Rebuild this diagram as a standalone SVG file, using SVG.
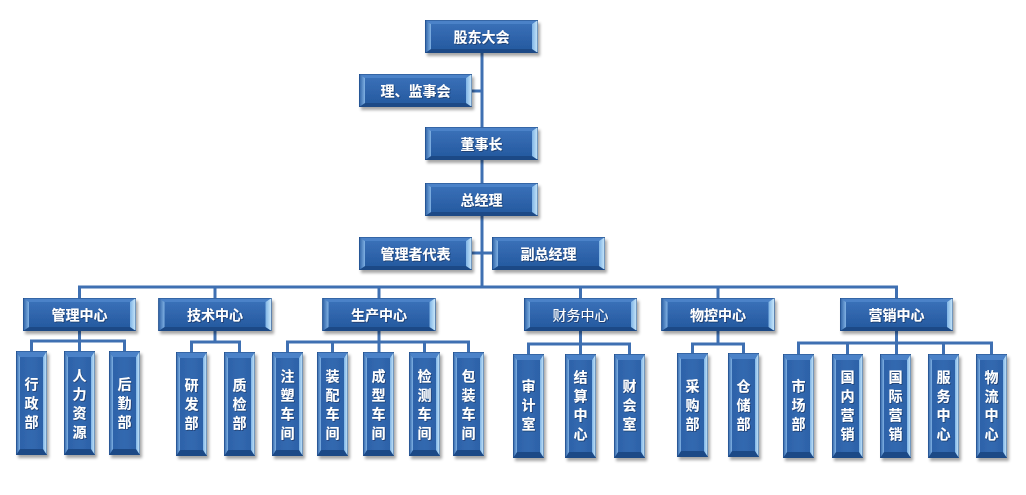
<svg xmlns="http://www.w3.org/2000/svg" xmlns:xlink="http://www.w3.org/1999/xlink" width="1026" height="495" viewBox="0 0 1026 495">
<style>
.ln{fill:none;stroke:#3f70b2;stroke-width:3;stroke-linejoin:miter}
.t{font-family:"Noto Sans CJK SC","Noto Sans",sans-serif;font-size:14px;font-weight:bold;fill:#ffffff;text-anchor:middle;filter:url(#ts)}
.tn{font-weight:normal}
</style>
<defs>
<filter id="sh" x="-20%" y="-20%" width="150%" height="150%">
<feDropShadow dx="2" dy="3" stdDeviation="1.5" flood-color="#000" flood-opacity="0.35"/>
</filter>
<filter id="ts" x="-10%" y="-10%" width="130%" height="130%">
<feDropShadow dx="0.8" dy="0.8" stdDeviation="0.5" flood-color="#0a1f3d" flood-opacity="0.6"/>
</filter>
<linearGradient id="face" x1="0" y1="0" x2="0" y2="1">
<stop offset="0" stop-color="#3c73bb"/>
<stop offset="1" stop-color="#23579d"/>
</linearGradient>
<linearGradient id="vface" x1="0" y1="0" x2="1" y2="0">
<stop offset="0" stop-color="#2b60a7"/>
<stop offset="0.5" stop-color="#3369b0"/>
<stop offset="1" stop-color="#2a5fa5"/>
</linearGradient>
<linearGradient id="rgt" x1="0" y1="0" x2="1" y2="0">
<stop offset="0" stop-color="#7fb4e6"/>
<stop offset="1" stop-color="#cdeafb"/>
</linearGradient>
<linearGradient id="lft" x1="0" y1="0" x2="1" y2="0">
<stop offset="0" stop-color="#2a5ea3"/>
<stop offset="1" stop-color="#80b1e3"/>
</linearGradient>
<g id="hb" filter="url(#sh)">
<rect x="0" y="0" width="113" height="33" fill="url(#face)"/>
<polygon points="0,0 113,0 107,4 6,4" fill="#4c82c8"/>
<polygon points="0,33 113,33 107,29 6,29" fill="#1d4a86"/>
<polygon points="0,0 6,4 6,29 0,33" fill="url(#lft)"/>
<polygon points="113,0 107,4 107,29 113,33" fill="url(#rgt)"/>
<rect x="0.25" y="0.25" width="112.5" height="32.5" fill="none" stroke="#1f4a84" stroke-width="0.5"/>
</g>
<g id="vb" filter="url(#sh)">
<rect x="0" y="0" width="31" height="104" fill="url(#vface)"/>
<polygon points="0,0 31,0 27,6 4,6" fill="#4c82c8"/>
<polygon points="0,104 31,104 27,98 4,98" fill="#1d4a86"/>
<polygon points="0,0 4,6 4,98 0,104" fill="url(#lft)"/>
<polygon points="31,0 27,6 27,98 31,104" fill="url(#rgt)"/>
<rect x="0.25" y="0.25" width="30.5" height="103.5" fill="none" stroke="#1f4a84" stroke-width="0.5"/>
</g>
</defs>
<rect width="1026" height="495" fill="#ffffff"/>

<g id="connectors">
<path class="ln" d="M482 53 V287"/>
<path class="ln" d="M472 91 H482"/>
<path class="ln" d="M472 253 H492"/>
<path class="ln" d="M79.5 298 V287 H896.5 V298"/>
<path class="ln" d="M215 287 V298"/>
<path class="ln" d="M379 287 V298"/>
<path class="ln" d="M580.5 287 V298"/>
<path class="ln" d="M718 287 V298"/>
<path class="ln" d="M79.5 331 V352"/>
<path class="ln" d="M31.5 352 V341 H124.5 V352"/>
<path class="ln" d="M215 331 V342"/>
<path class="ln" d="M191.5 352 V342 H239.5 V352"/>
<path class="ln" d="M379 331 V352"/>
<path class="ln" d="M287.5 352 V342 H468.5 V352"/>
<path class="ln" d="M332.5 342 V352 M424.5 342 V352"/>
<path class="ln" d="M580.5 331 V354"/>
<path class="ln" d="M528.5 354 V344 H629.5 V354"/>
<path class="ln" d="M718 331 V344"/>
<path class="ln" d="M692.5 353 V344 H743.5 V353"/>
<path class="ln" d="M896.5 331 V354"/>
<path class="ln" d="M798.5 354 V343 H991.5 V354"/>
<path class="ln" d="M847.5 343 V354 M943.5 343 V354"/>
</g>

<g id="n-gudong"><use xlink:href="#hb" x="425" y="20"/><text class="t" x="481.5" y="41.5">股东大会</text></g>
<g id="n-jianshi"><use xlink:href="#hb" x="359" y="74"/><text class="t" x="415.5" y="95.5">理、监事会</text></g>
<g id="n-dongshizhang"><use xlink:href="#hb" x="425" y="127"/><text class="t" x="481.5" y="148.5">董事长</text></g>
<g id="n-zongjingli"><use xlink:href="#hb" x="425" y="183"/><text class="t" x="481.5" y="204.5">总经理</text></g>
<g id="n-guanlizhe"><use xlink:href="#hb" x="359" y="237"/><text class="t" x="415.5" y="258.5">管理者代表</text></g>
<g id="n-fuzong"><use xlink:href="#hb" x="492" y="237"/><text class="t" x="548.5" y="258.5">副总经理</text></g>

<g id="n-guanli"><use xlink:href="#hb" x="23" y="298"/><text class="t" x="79.5" y="319.5">管理中心</text></g>
<g id="n-jishu"><use xlink:href="#hb" x="158.5" y="298"/><text class="t" x="215" y="319.5">技术中心</text></g>
<g id="n-shengchan"><use xlink:href="#hb" x="322.5" y="298"/><text class="t" x="379" y="319.5">生产中心</text></g>
<g id="n-caiwu"><use xlink:href="#hb" x="524" y="298"/><text class="t tn" x="580.5" y="319.5">财务中心</text></g>
<g id="n-wukong"><use xlink:href="#hb" x="661.5" y="298"/><text class="t" x="718" y="319.5">物控中心</text></g>
<g id="n-yingxiao"><use xlink:href="#hb" x="840" y="298"/><text class="t" x="896.5" y="319.5">营销中心</text></g>

<g id="n-xingzheng"><use xlink:href="#vb" x="16" y="351"/><text class="t" x="31.5" y="389"><tspan x="31.5">行</tspan><tspan x="31.5" dy="19">政</tspan><tspan x="31.5" dy="19">部</tspan></text></g>
<g id="n-renli"><use xlink:href="#vb" x="64" y="351"/><text class="t" x="79.5" y="379.5"><tspan x="79.5">人</tspan><tspan x="79.5" dy="19">力</tspan><tspan x="79.5" dy="19">资</tspan><tspan x="79.5" dy="19">源</tspan></text></g>
<g id="n-houqin"><use xlink:href="#vb" x="109" y="351"/><text class="t" x="124.5" y="389"><tspan x="124.5">后</tspan><tspan x="124.5" dy="19">勤</tspan><tspan x="124.5" dy="19">部</tspan></text></g>

<g id="n-yanfa"><use xlink:href="#vb" x="176" y="352"/><text class="t" x="191.5" y="390"><tspan x="191.5">研</tspan><tspan x="191.5" dy="19">发</tspan><tspan x="191.5" dy="19">部</tspan></text></g>
<g id="n-zhijian"><use xlink:href="#vb" x="224" y="352"/><text class="t" x="239.5" y="390"><tspan x="239.5">质</tspan><tspan x="239.5" dy="19">检</tspan><tspan x="239.5" dy="19">部</tspan></text></g>

<g id="n-zhusu"><use xlink:href="#vb" x="272" y="352"/><text class="t" x="287.5" y="380.5"><tspan x="287.5">注</tspan><tspan x="287.5" dy="19">塑</tspan><tspan x="287.5" dy="19">车</tspan><tspan x="287.5" dy="19">间</tspan></text></g>
<g id="n-zhuangpei"><use xlink:href="#vb" x="317" y="352"/><text class="t" x="332.5" y="380.5"><tspan x="332.5">装</tspan><tspan x="332.5" dy="19">配</tspan><tspan x="332.5" dy="19">车</tspan><tspan x="332.5" dy="19">间</tspan></text></g>
<g id="n-chengxing"><use xlink:href="#vb" x="363" y="352"/><text class="t" x="378.5" y="380.5"><tspan x="378.5">成</tspan><tspan x="378.5" dy="19">型</tspan><tspan x="378.5" dy="19">车</tspan><tspan x="378.5" dy="19">间</tspan></text></g>
<g id="n-jiance"><use xlink:href="#vb" x="409" y="352"/><text class="t" x="424.5" y="380.5"><tspan x="424.5">检</tspan><tspan x="424.5" dy="19">测</tspan><tspan x="424.5" dy="19">车</tspan><tspan x="424.5" dy="19">间</tspan></text></g>
<g id="n-baozhuang"><use xlink:href="#vb" x="453" y="352"/><text class="t" x="468.5" y="380.5"><tspan x="468.5">包</tspan><tspan x="468.5" dy="19">装</tspan><tspan x="468.5" dy="19">车</tspan><tspan x="468.5" dy="19">间</tspan></text></g>

<g id="n-shenji"><use xlink:href="#vb" x="513" y="354"/><text class="t" x="528.5" y="391"><tspan x="528.5">审</tspan><tspan x="528.5" dy="19">计</tspan><tspan x="528.5" dy="19">室</tspan></text></g>
<g id="n-jiesuan"><use xlink:href="#vb" x="565" y="354"/><text class="t" x="580.5" y="381.5"><tspan x="580.5">结</tspan><tspan x="580.5" dy="19">算</tspan><tspan x="580.5" dy="19">中</tspan><tspan x="580.5" dy="19">心</tspan></text></g>
<g id="n-caihui"><use xlink:href="#vb" x="614" y="354"/><text class="t" x="629.5" y="391"><tspan x="629.5">财</tspan><tspan x="629.5" dy="19">会</tspan><tspan x="629.5" dy="19">室</tspan></text></g>

<g id="n-caigou"><use xlink:href="#vb" x="677" y="353"/><text class="t" x="692.5" y="390.5"><tspan x="692.5">采</tspan><tspan x="692.5" dy="19">购</tspan><tspan x="692.5" dy="19">部</tspan></text></g>
<g id="n-cangchu"><use xlink:href="#vb" x="728" y="353"/><text class="t" x="743.5" y="390.5"><tspan x="743.5">仓</tspan><tspan x="743.5" dy="19">储</tspan><tspan x="743.5" dy="19">部</tspan></text></g>

<g id="n-shichang"><use xlink:href="#vb" x="783" y="354"/><text class="t" x="798.5" y="391"><tspan x="798.5">市</tspan><tspan x="798.5" dy="19">场</tspan><tspan x="798.5" dy="19">部</tspan></text></g>
<g id="n-guonei"><use xlink:href="#vb" x="832" y="354"/><text class="t" x="847.5" y="381.5"><tspan x="847.5">国</tspan><tspan x="847.5" dy="19">内</tspan><tspan x="847.5" dy="19">营</tspan><tspan x="847.5" dy="19">销</tspan></text></g>
<g id="n-guoji"><use xlink:href="#vb" x="880" y="354"/><text class="t" x="895.5" y="381.5"><tspan x="895.5">国</tspan><tspan x="895.5" dy="19">际</tspan><tspan x="895.5" dy="19">营</tspan><tspan x="895.5" dy="19">销</tspan></text></g>
<g id="n-fuwu"><use xlink:href="#vb" x="928" y="354"/><text class="t" x="943.5" y="381.5"><tspan x="943.5">服</tspan><tspan x="943.5" dy="19">务</tspan><tspan x="943.5" dy="19">中</tspan><tspan x="943.5" dy="19">心</tspan></text></g>
<g id="n-wuliu"><use xlink:href="#vb" x="976" y="354"/><text class="t" x="991.5" y="381.5"><tspan x="991.5">物</tspan><tspan x="991.5" dy="19">流</tspan><tspan x="991.5" dy="19">中</tspan><tspan x="991.5" dy="19">心</tspan></text></g>
</svg>
